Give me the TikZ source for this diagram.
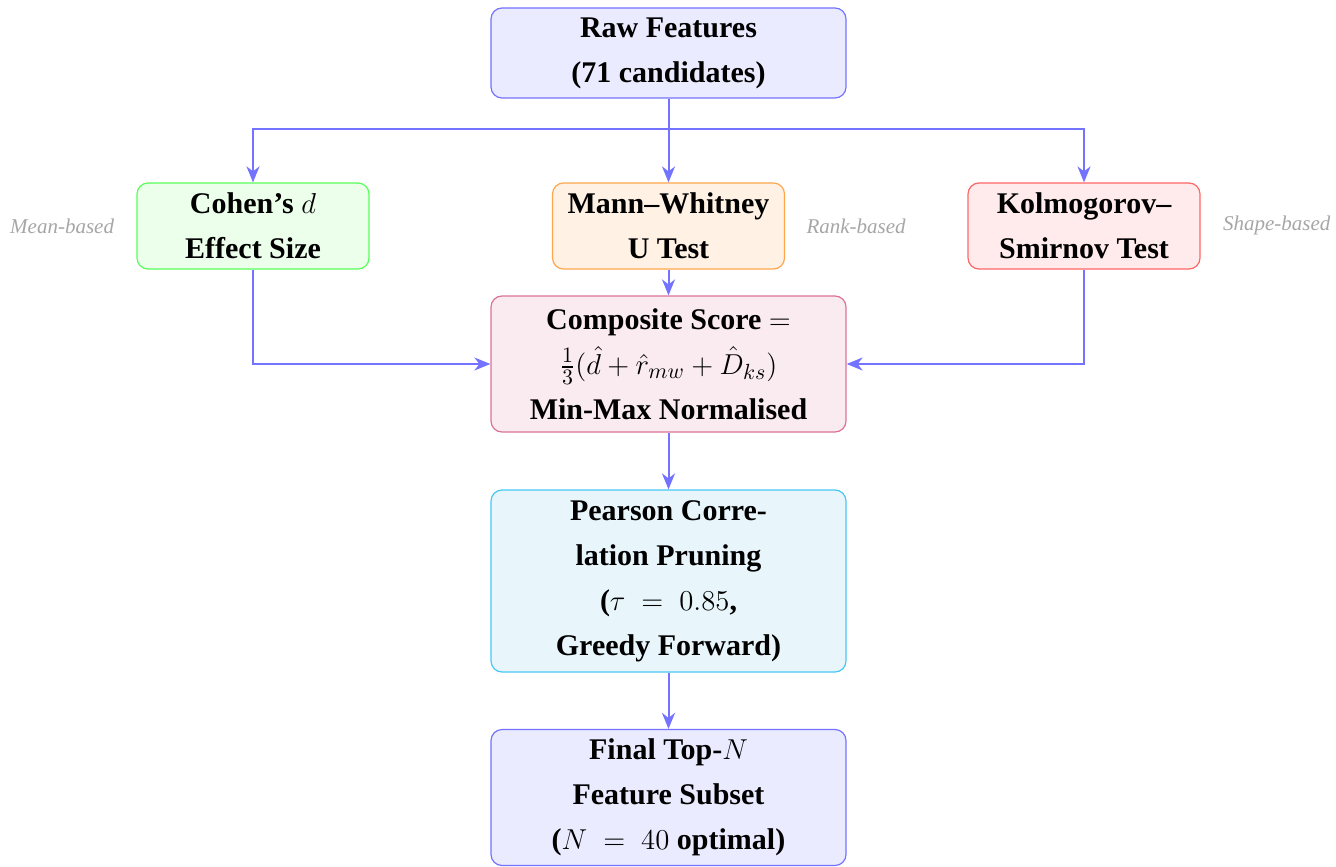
\documentclass[tikz,border=0pt]{standalone}
\usepackage{fontspec}
\setmainfont{Liberation Serif}
\usepackage{amsmath, amssymb}
\usepackage{xcolor}
\usetikzlibrary{arrows.meta}
\usetikzlibrary{positioning}
\definecolor{prunefill}{RGB}{232,246,252}
\definecolor{pruneline}{RGB}{70,200,245}

\begin{document}
\begin{tikzpicture}[x=0.5pt, y=-0.5pt]
  % Define overall style for the pipeline
  \tikzset{
    stage/.style={
      draw,
      rectangle,
      rounded corners=5.5pt,
      align=center,
      inner sep=2pt,
      line width=0.6pt,
      font=\fontsize{15}{22.5}\selectfont\bfseries
    },
    wide/.style={minimum width=177.5pt},
    narrow/.style={minimum width=116pt, minimum height=43pt},
    flow/.style={
      draw=blue!55,
      line width=1pt,
      -{Stealth[length=8pt, width=6.5pt, inset=2.5pt]}
    },
    side/.style={
      font=\fontsize{10.5}{12}\selectfont\itshape,
      text=black!35,
      inner sep=0pt
    }
  }

  \useasboundingbox (0,0) rectangle (1336,866);

  % Input and the three statistical tests
  \node[stage, wide, minimum height=45pt, fill=blue!8, draw=blue!55] (raw) at (668.5,53) {Raw Features\\(71 candidates)};
  \node[stage, narrow, fill=green!8, draw=green!65] (cohen) at (253,226) {Cohen's $d$\\Effect Size};
  \node[stage, narrow, fill=orange!10, draw=orange!70] (mann) at (668.5,226) {Mann--Whitney\\U Test};
  \node[stage, narrow, fill=red!8, draw=red!60] (kolm) at (1084,226) {Kolmogorov--\\Smirnov Test};

  % Side notes on each test
  \node[side, left=11pt of cohen] (meanlbl) {Mean-based};
  \node[side, right=10.5pt of mann] (ranklbl) {Rank-based};
  \node[side, right=11pt of kolm, yshift=0.5pt] (shapelbl) {Shape-based};

  % Scoring, pruning and output
  \node[stage, wide, minimum height=68pt, fill=purple!8, draw=purple!55] (comp) at (668.5,364) {Composite Score $=$\\$\frac{1}{3}(\hat{d} + \hat{r}_{mw} + \hat{D}_{ks})$\\Min-Max Normalised};
  \node[stage, wide, minimum height=91pt, fill=prunefill, draw=pruneline] (pearson) at (668.5,581) {Pearson Corre-\\lation Pruning\\($\tau \;=\; 0.85$,\\Greedy Forward)};
  \node[stage, wide, minimum height=68pt, fill=blue!8, draw=blue!55] (final) at (668.5,797.5) {Final Top-$N$\\Feature Subset\\($N \;=\; 40$ optimal)};

  % Draw all edges
  \draw[flow] (raw.south) -- ++(0,30) -| (cohen.north);
  \draw[flow] (raw.south) -- ++(0,30) -| (kolm.north);
  \draw[flow] (raw) -- (mann);
  \draw[flow] (mann) -- (comp);
  \draw[flow] (cohen) |- (comp);
  \draw[flow] (kolm) |- (comp);
  \draw[flow] (comp) -- (pearson);
  \draw[flow] (pearson) -- (final);
\end{tikzpicture}
\end{document}
